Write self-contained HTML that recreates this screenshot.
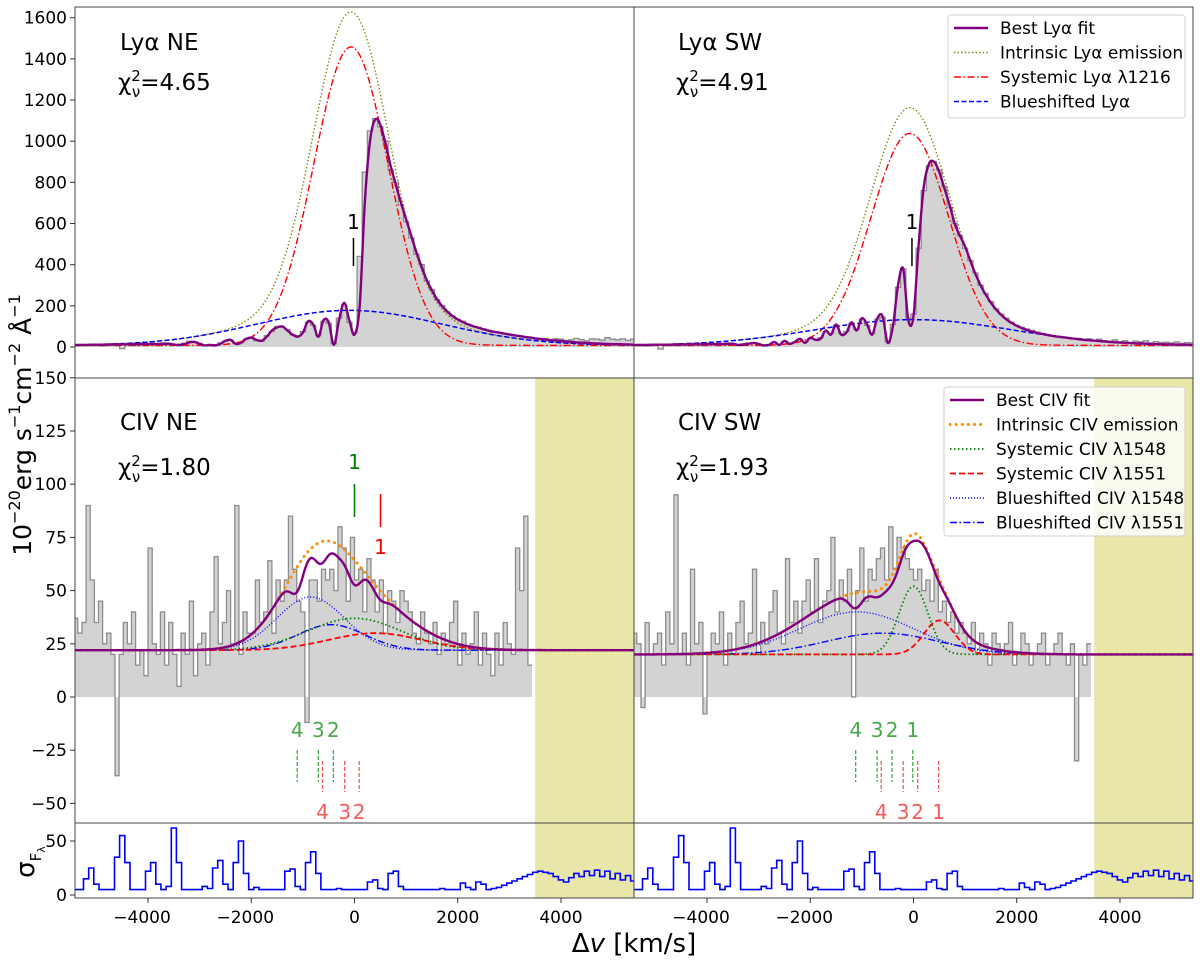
<!DOCTYPE html>
<html><head><meta charset="utf-8"><style>
html,body{margin:0;padding:0;background:#fff;}
svg{display:block;font-family:"DejaVu Sans","Liberation Sans",sans-serif;}
</style></head><body>
<svg id="fig" width="1200" height="963" viewBox="0 0 1200 963" xmlns="http://www.w3.org/2000/svg">
<defs>
<clipPath id="cTL"><rect x="75" y="7" width="559" height="371"/></clipPath>
<clipPath id="cTR"><rect x="634" y="7" width="559" height="371"/></clipPath>
<clipPath id="cML"><rect x="75" y="378" width="559" height="445"/></clipPath>
<clipPath id="cMR"><rect x="634" y="378" width="559" height="445"/></clipPath>
<clipPath id="cBL"><rect x="75" y="823" width="559" height="75"/></clipPath>
<clipPath id="cBR"><rect x="634" y="823" width="559" height="75"/></clipPath>
</defs>
<g id="layer"></g>
<g id="texts">
<text x="120" y="50" font-size="23">Lyα NE</text>
<text x="118" y="90" font-size="23">χ<tspan font-size="15" dy="-9">2</tspan><tspan font-size="15" dx="-9" dy="16">ν</tspan><tspan dy="-7">=4.65</tspan></text>
<text x="678" y="50" font-size="23">Lyα SW</text>
<text x="676" y="90" font-size="23">χ<tspan font-size="15" dy="-9">2</tspan><tspan font-size="15" dx="-9" dy="16">ν</tspan><tspan dy="-7">=4.91</tspan></text>
<text x="120" y="430" font-size="23">CIV NE</text>
<text x="118" y="475" font-size="23">χ<tspan font-size="15" dy="-9">2</tspan><tspan font-size="15" dx="-9" dy="16">ν</tspan><tspan dy="-7">=1.80</tspan></text>
<text x="678" y="430" font-size="23">CIV SW</text>
<text x="676" y="475" font-size="23">χ<tspan font-size="15" dy="-9">2</tspan><tspan font-size="15" dx="-9" dy="16">ν</tspan><tspan dy="-7">=1.93</tspan></text>
<text transform="translate(31,425) rotate(-90)" text-anchor="middle" font-size="25">10<tspan font-size="16" dy="-11">−20</tspan><tspan dy="11">erg s</tspan><tspan font-size="16" dy="-11">−1</tspan><tspan dy="11">cm</tspan><tspan font-size="16" dy="-11">−2</tspan><tspan dy="11"> Å</tspan><tspan font-size="16" dy="-11">−1</tspan></text>
<text transform="translate(34,862) rotate(-90)" text-anchor="middle" font-size="26">σ<tspan font-size="15" dy="7">F</tspan><tspan font-size="11" dy="4">λ</tspan></text>
<text x="634" y="952" text-anchor="middle" font-size="26">Δ<tspan font-style="italic">v</tspan> [km/s]</text>
</g>
</svg>
<script>
// ---------- data ----------
const velStepLya = 100;
const lyaNEgray = [5,12,8,10,14,6,9,12,15,-8,10,13,7,18,12,9,16,20,14,8,12,18,28,
22,18,6,12,10,20,28,32,18,22,38,48,30,28,55,75,100,95,85,60,55,75,120,105,55,125,115,15,140,205,120,70,
440,850,1050,1110,1070,1000,860,800,690,610,530,450,400,320,280,230,200,170,150,135,125,110,100,95,88,80,74,70,64,60,55,52,50,45,42,38,42,35,40,38,32,35,42,36,30,40,38,33,45,38,35,40,32,38];
const lyaNEfit = [10,10,10,11,11,11,12,12,12,13,13,13,14,14,14,15,15,15,16,12,10,14,22,
25,15,8,10,8,15,30,35,15,20,40,45,35,30,50,80,95,100,80,60,50,70,125,110,50,130,120,10,130,215,130,60,
200,700,1000,1105,1080,990,880,790,700,620,540,460,390,325,275,232,198,172,150,134,121,110,101,94,86,79,74,70,65,61,57,53,49,46,42,39,36,33,31,29,27,25,23,21,20,18,17,16,15,14,14,13,12,12];
const lyaSWgray = [8,12,6,14,10,-10,12,9,15,11,14,8,16,12,10,18,14,9,20,12,10,15,20,
18,12,10,12,22,12,28,18,22,35,25,40,38,45,75,65,105,65,75,115,85,135,105,65,135,145,25,110,290,380,140,160,
480,760,880,900,860,780,680,600,540,480,420,360,300,260,220,185,160,140,120,105,95,88,80,72,66,60,56,52,48,44,40,42,36,40,32,38,30,28,35,25,30,22,28,25,30,20,26,22,24,20,25,18,22,20];
const lyaSWfit = [10,10,10,10,11,11,11,11,12,12,12,13,13,13,14,14,14,15,15,16,10,12,15,
20,15,8,10,25,10,30,15,25,40,20,45,35,40,80,60,110,60,70,120,80,140,110,60,140,150,20,100,300,380,130,150,
500,780,890,900,850,770,690,598,540,488,420,355,300,254,215,182,156,134,117,103,92,82,75,68,63,58,54,50,47,44,41,38,35,33,31,29,27,25,23,22,20,19,18,17,16,15,14,13,13,12,12,11,11,10];
const lyaNEsys = [1450, -70, 720];
const lyaNEblue = [170, -100, 1800];
const lyaNEcont = [8];
const lyaSWsys = [1030, -70, 750];
const lyaSWblue = [125, 0, 1900];
const lyaSWcont = [8];
const lyaMarkNE = [-20];
const lyaMarkSW = [-30];

const velStepCiv = 80;
const civNEgray = [37,30,35,90,55,35,45,25,30,20,-37,20,35,25,40,15,22,10,70,25,20,40,15,35,20,5,30,20,45,10,
25,30,15,40,66,25,35,50,25,90,20,40,30,30,55,35,40,64,30,55,45,55,85,60,45,40,-12,55,55,45,
60,55,60,50,80,70,45,75,55,60,40,65,55,40,55,30,50,45,35,50,45,40,30,25,40,30,25,35,20,30,
25,35,45,15,30,20,25,40,15,30,20,10,30,15,35,25,20,70,50,85,15];
const civSWgray = [30,25,-5,35,20,25,30,15,40,25,95,20,30,15,60,25,35,-8,20,30,25,40,15,30,20,35,45,25,30,60,
20,35,25,40,50,30,25,65,35,45,30,45,55,40,65,35,45,50,75,40,55,45,60,0,50,70,45,60,55,65,
70,55,80,60,75,70,65,60,55,60,50,55,45,60,40,45,35,40,30,35,30,25,35,20,30,25,15,30,25,20,
25,35,15,20,30,25,15,20,25,30,15,20,25,30,20,15,25,-30,20,15,25];
const civNEcont = [22];
const civNEbs1548 = [25, -850, 650];
const civNEbs1551 = [12, -450, 650];
const civNEsys1548 = [15, 0, 900];
const civNEsys1551 = [8, 400, 900];
const civNEabsV = [-1124, -650, -300, 0, 500];
const civNEabsD = [0.3, 0.2, 0.1, 0.27, 0.15];
const civSWcont = [20];
const civSWbs1548 = [20, -1100, 1100];
const civSWbs1551 = [10, -600, 1100];
const civSWsys1548 = [32, 0, 280];
const civSWsys1551 = [16, 500, 300];
const civSWabsV = [-1124, -700, -390, 0, 500];
const civSWabsD = [0.25, 0.1, 0.1, 0.06, 0.05];
const absGreenNE = [-1110, -700, -410];
const absRedNE = [-620, -190, 90];
const absGreenNElabels = ['4','3','2'];
const absRedNElabels = ['4','3','2'];
const absGreenSW = [-1120, -705, -415, -15];
const absRedSW = [-625, -200, 80, 485];
const absGreenSWlabels = ['4','3','2','1'];
const absRedSWlabels = ['4','3','2','1'];
const civMarkNEgreen = [0];
const civMarkNEred = [504];

const velStepSig = 100;
const sigmaF = [5,5,15,25,10,5,5,5,35,55,30,5,5,5,22,30,10,5,8,62,30,5,5,5,5,8,6,25,32,10,5,30,50,20,5,7,5,5,5,5,5,22,24,8,5,30,40,20,5,5,5,6,5,5,5,5,5,12,14,6,5,20,22,8,5,5,5,5,5,5,5,6,5,5,5,11,7,5,12,10,5,6,7,9,11,13,15,17,19,21,22,21,20,17,14,12,16,20,17,22,18,23,17,22,15,20,14,18,13];

const xTicks = [-4000,-2000,0,2000,4000];
const yTicksTop = [0,200,400,600,800,1000,1200,1400,1600];
const yTicksMid = [-50,-25,0,25,50,75,100,125,150];
const yTicksSig = [0,50];
const maskStart = [3500];

// ---------- geometry ----------
const NS='http://www.w3.org/2000/svg';
const VMIN=-5415, VMAX=5415;
const cols=[{x0:75,w:559},{x0:634,w:559}];
function xs(c,v){return cols[c].x0+(v-VMIN)/(VMAX-VMIN)*cols[c].w;}
const yTop=v=>347-v*0.2058;
const yMid=v=>697-v*2.128;
const ySig=v=>895-v*1.08;
const layer=document.getElementById('layer');
function el(tag,attrs,parent){const e=document.createElementNS(NS,tag);for(const k in attrs)e.setAttribute(k,attrs[k]);(parent||layer).appendChild(e);return e;}
function gauss(p,v){return p[0]*Math.exp(-(v-p[1])*(v-p[1])/(2*p[2]*p[2]));}
function smooth(pts){let d='M'+pts[0][0].toFixed(1)+','+pts[0][1].toFixed(1);
 for(let i=0;i<pts.length-1;i++){const p0=pts[Math.max(0,i-1)],p1=pts[i],p2=pts[i+1],p3=pts[Math.min(pts.length-1,i+2)];
 const c1=[p1[0]+(p2[0]-p0[0])/6,p1[1]+(p2[1]-p0[1])/6],c2=[p2[0]-(p3[0]-p1[0])/6,p2[1]-(p3[1]-p1[1])/6];
 d+='C'+c1[0].toFixed(1)+','+c1[1].toFixed(1)+' '+c2[0].toFixed(1)+','+c2[1].toFixed(1)+' '+p2[0].toFixed(1)+','+p2[1].toFixed(1);}return d;}
function stepPts(c,arr,step,ysc){const pts=[];arr.forEach((val,i)=>{const v=-5400+i*step;pts.push([xs(c,v-step/2),ysc(val)],[xs(c,v+step/2),ysc(val)]);});return pts;}
function drawHist(c,arr,step,ysc,clip,name){
 const g=el('g',{'clip-path':'url(#'+clip+')'});
 
 
 const pts=stepPts(c,arr,step,ysc);const y0=ysc(0);
 let d='M'+pts[0][0]+','+y0;pts.forEach(p=>d+='L'+p[0].toFixed(1)+','+p[1].toFixed(1));d+='L'+pts[pts.length-1][0]+','+y0+'Z';
 el('path',{d:d,fill:'#d3d3d3',stroke:'none'},g);
 let d2='M'+pts.map(p=>p[0].toFixed(1)+','+p[1].toFixed(1)).join('L');
 el('path',{d:d2,fill:'none',stroke:'#8c8c8c','stroke-width':1.3},g);}
function drawModel(c,fn,ysc,clip,style,name){
 const pts=[];for(let v=-5420;v<=5420;v+=20)pts.push([xs(c,v),ysc(fn(v))]);
 const p=el('path',Object.assign({d:'M'+pts.map(p=>p[0].toFixed(1)+','+p[1].toFixed(1)).join('L'),fill:'none','clip-path':'url(#'+clip+')'},style));
 
 }
function drawFit(c,arr,step,ysc,clip,name){
 const pts=arr.map((val,i)=>[xs(c,-5400+i*step),ysc(val)]);
 const p=el('path',{d:smooth(pts),fill:'none',stroke:'#800080','stroke-width':2.4,'clip-path':'url(#'+clip+')'});
 
 }

const S={
 purple:{stroke:'#800080','stroke-width':2.4},
 olive:{stroke:'#808000','stroke-width':1.4,'stroke-dasharray':'1.4,2.2'},
 redDD:{stroke:'#ff0000','stroke-width':1.4,'stroke-dasharray':'7,2.5,1.5,2.5'},
 blueDash:{stroke:'#0000ff','stroke-width':1.5,'stroke-dasharray':'5,2.5'},
 orange:{stroke:'#ff8c00','stroke-width':3,'stroke-dasharray':'0.1,6','stroke-linecap':'round'},
 greenDot:{stroke:'#008000','stroke-width':1.8,'stroke-dasharray':'1.5,2.5'},
 redDash:{stroke:'#ff0000','stroke-width':1.8,'stroke-dasharray':'6,3'},
 blueDot:{stroke:'#0000ff','stroke-width':1.4,'stroke-dasharray':'1,2'},
 blueDD:{stroke:'#0000ff','stroke-width':1.4,'stroke-dasharray':'7,2.5,1.5,2.5'}
};

// ---------- yellow masks ----------
[0,1].forEach(c=>{
 const x=xs(c,maskStart[0]);
 const r1=el('rect',{x:x,y:378,width:cols[c].x0+cols[c].w-x,height:445,fill:'#e8e6a8'});
 
 
 const r2=el('rect',{x:x,y:823,width:cols[c].x0+cols[c].w-x,height:75,fill:'#e8e6a8'});
 
 
});

// ---------- Lya panels ----------
[[0,'cTL',lyaNEgray,lyaNEfit,lyaNEsys,lyaNEblue,lyaNEcont,'ne'],[1,'cTR',lyaSWgray,lyaSWfit,lyaSWsys,lyaSWblue,lyaSWcont,'sw']].forEach(P=>{
 const [c,clip,gray,fit,sys,blue,cont,tag]=P;
 drawHist(c,gray,velStepLya,yTop,clip,'lya-'+tag+'-spectrum');
 drawModel(c,v=>cont[0]+gauss(sys,v)+gauss(blue,v),yTop,clip,S.olive,'lya-'+tag+'-intrinsic');
 drawModel(c,v=>cont[0]+gauss(sys,v),yTop,clip,S.redDD,'lya-'+tag+'-systemic');
 drawModel(c,v=>cont[0]+gauss(blue,v),yTop,clip,S.blueDash,'lya-'+tag+'-blueshifted');
 drawFit(c,fit,velStepLya,yTop,clip,'lya-'+tag+'-best-fit');
});
[[0,lyaMarkNE],[1,lyaMarkSW]].forEach(([c,m])=>{
 const x=xs(c,m[0]);
 const l=el('line',{x1:x,x2:x,y1:238,y2:266,stroke:'#000','stroke-width':1.5});
 
 
 const t=el('text',{x:x,y:229,'text-anchor':'middle','font-size':20});t.textContent='1';
 
 
});

// ---------- CIV panels ----------
function civPanel(c,clip,gray,cont,b48,b51,s48,s51,absV,absD,tag){
 drawHist(c,gray,velStepCiv,yMid,clip,'civ-'+tag+'-spectrum');
 const em=v=>gauss(b48,v)+gauss(b51,v)+gauss(s48,v)+gauss(s51,v);
 drawModel(c,v=>cont[0]+gauss(b48,v),yMid,clip,S.blueDot,'civ-'+tag+'-blueshifted-1548');
 drawModel(c,v=>cont[0]+gauss(b51,v),yMid,clip,S.blueDD,'civ-'+tag+'-blueshifted-1551');
 drawModel(c,v=>cont[0]+gauss(s48,v),yMid,clip,S.greenDot,'civ-'+tag+'-systemic-1548');
 drawModel(c,v=>cont[0]+gauss(s51,v),yMid,clip,S.redDash,'civ-'+tag+'-systemic-1551');
 drawModel(c,v=>cont[0]+em(v),yMid,clip,S.orange,'civ-'+tag+'-intrinsic');
 drawModel(c,v=>{let t=1;absV.forEach((a,i)=>{t*=1-absD[i]*Math.exp(-(v-a)*(v-a)/(2*130*130));});return cont[0]+em(v)*t;},yMid,clip,S.purple,'civ-'+tag+'-best-fit');
}
civPanel(0,'cML',civNEgray,civNEcont,civNEbs1548,civNEbs1551,civNEsys1548,civNEsys1551,civNEabsV,civNEabsD,'ne');
civPanel(1,'cMR',civSWgray,civSWcont,civSWbs1548,civSWbs1551,civSWsys1548,civSWsys1551,civSWabsV,civSWabsD,'sw');

(function(){
 const xg=xs(0,civMarkNEgreen[0]),xr=xs(0,civMarkNEred[0]);
 const a=el('line',{x1:xg,x2:xg,y1:484,y2:517,stroke:'#008000','stroke-width':1.6});
 
 
 const ta=el('text',{x:xg,y:469,'text-anchor':'middle','font-size':20,fill:'#008000'});ta.textContent='1';
 
 
 const b=el('line',{x1:xr,x2:xr,y1:494,y2:527,stroke:'#ff0000','stroke-width':1.6});
 
 
 const tb=el('text',{x:xr,y:554,'text-anchor':'middle','font-size':20,fill:'#ff0000'});tb.textContent='1';
 
 
})();
function absMarks(c,gv,gl,rv,rl){
 gv.forEach((v,i)=>{const x=xs(c,v);
  const l=el('line',{x1:x,x2:x,y1:750,y2:782,stroke:'#4aa84a','stroke-width':1.3,'stroke-dasharray':'4,2'});
  
  
  const t=el('text',{x:x,y:737,'text-anchor':'middle','font-size':20,fill:'#4aa84a'});t.textContent=gl[i];
  
  });
 rv.forEach((v,i)=>{const x=xs(c,v);
  const l=el('line',{x1:x,x2:x,y1:761,y2:792,stroke:'#f25a5a','stroke-width':1.3,'stroke-dasharray':'4,2'});
  
  
  const t=el('text',{x:x,y:819,'text-anchor':'middle','font-size':20,fill:'#f25a5a'});t.textContent=rl[i];
  
  });
}
absMarks(0,absGreenNE,absGreenNElabels,absRedNE,absRedNElabels);
absMarks(1,absGreenSW,absGreenSWlabels,absRedSW,absRedSWlabels);

// ---------- sigma panels ----------
[[0,'cBL'],[1,'cBR']].forEach(([c,clip])=>{
 const pts=stepPts(c,sigmaF,velStepSig,ySig);
 const p=el('path',{d:'M'+pts.map(p=>p[0].toFixed(1)+','+p[1].toFixed(1)).join('L'),fill:'none',stroke:'#0000ff','stroke-width':1.6,'clip-path':'url(#'+clip+')'});
 
 
});

// ---------- frames & ticks ----------
[[75,7,371],[75,378,445],[75,823,75],[634,7,371],[634,378,445],[634,823,75]].forEach(f=>{
 const r=el('rect',{x:f[0],y:f[1],width:559,height:f[2],fill:'none',stroke:'#444','stroke-width':1});
 
 
});
function yTicks(arr,ysc,name){arr.forEach(t=>{const y=ysc(t);
 const l=el('line',{x1:70,x2:75,y1:y,y2:y,stroke:'#333','stroke-width':1});
 
 
 const tx=el('text',{x:67,y:y+6,'text-anchor':'end','font-size':17});tx.textContent=(t<0?'\u2212':'')+Math.abs(t);
 
 });}
yTicks(yTicksTop,yTop,'y-top');
yTicks(yTicksMid,yMid,'y-mid');
yTicks(yTicksSig,ySig,'y-sigma');
[0,1].forEach(c=>xTicks.forEach(t=>{const x=xs(c,t);
 const l=el('line',{x1:x,x2:x,y1:898,y2:903,stroke:'#333','stroke-width':1});
 
 
 const tx=el('text',{x:x-(t<0?6:0),y:923,'text-anchor':'middle','font-size':17});tx.textContent=(t<0?'\u2212':'')+Math.abs(t);
 
 }));

// ---------- legends ----------
function legend(x,y,w,h,items,name){
 const g=el('g',{});
 
 
 el('rect',{x:x,y:y,width:w,height:h,rx:3,fill:'#fff','fill-opacity':0.8,stroke:'#d0d0d0'},g);
 items.forEach((it,i)=>{const cy=y+13+i*24.5;
  el('line',Object.assign({x1:x+6,x2:x+40,y1:cy,y2:cy},it[1]),g);
  const t=el('text',{x:x+52,y:cy+6,'font-size':17},g);t.textContent=it[0];
  
  });}
legend(948,15,237,103,[['Best Lyα fit',S.purple],['Intrinsic Lyα emission',S.olive],['Systemic Lyα λ1216',S.redDD],['Blueshifted Lyα',S.blueDash]],'legend-lya');
legend(944,387,241,149,[['Best CIV fit',S.purple],['Intrinsic CIV emission',S.orange],['Systemic CIV λ1548',S.greenDot],['Systemic CIV λ1551',S.redDash],['Blueshifted CIV λ1548',S.blueDot],['Blueshifted CIV λ1551',S.blueDD]],'legend-civ');
</script>
</body></html>
